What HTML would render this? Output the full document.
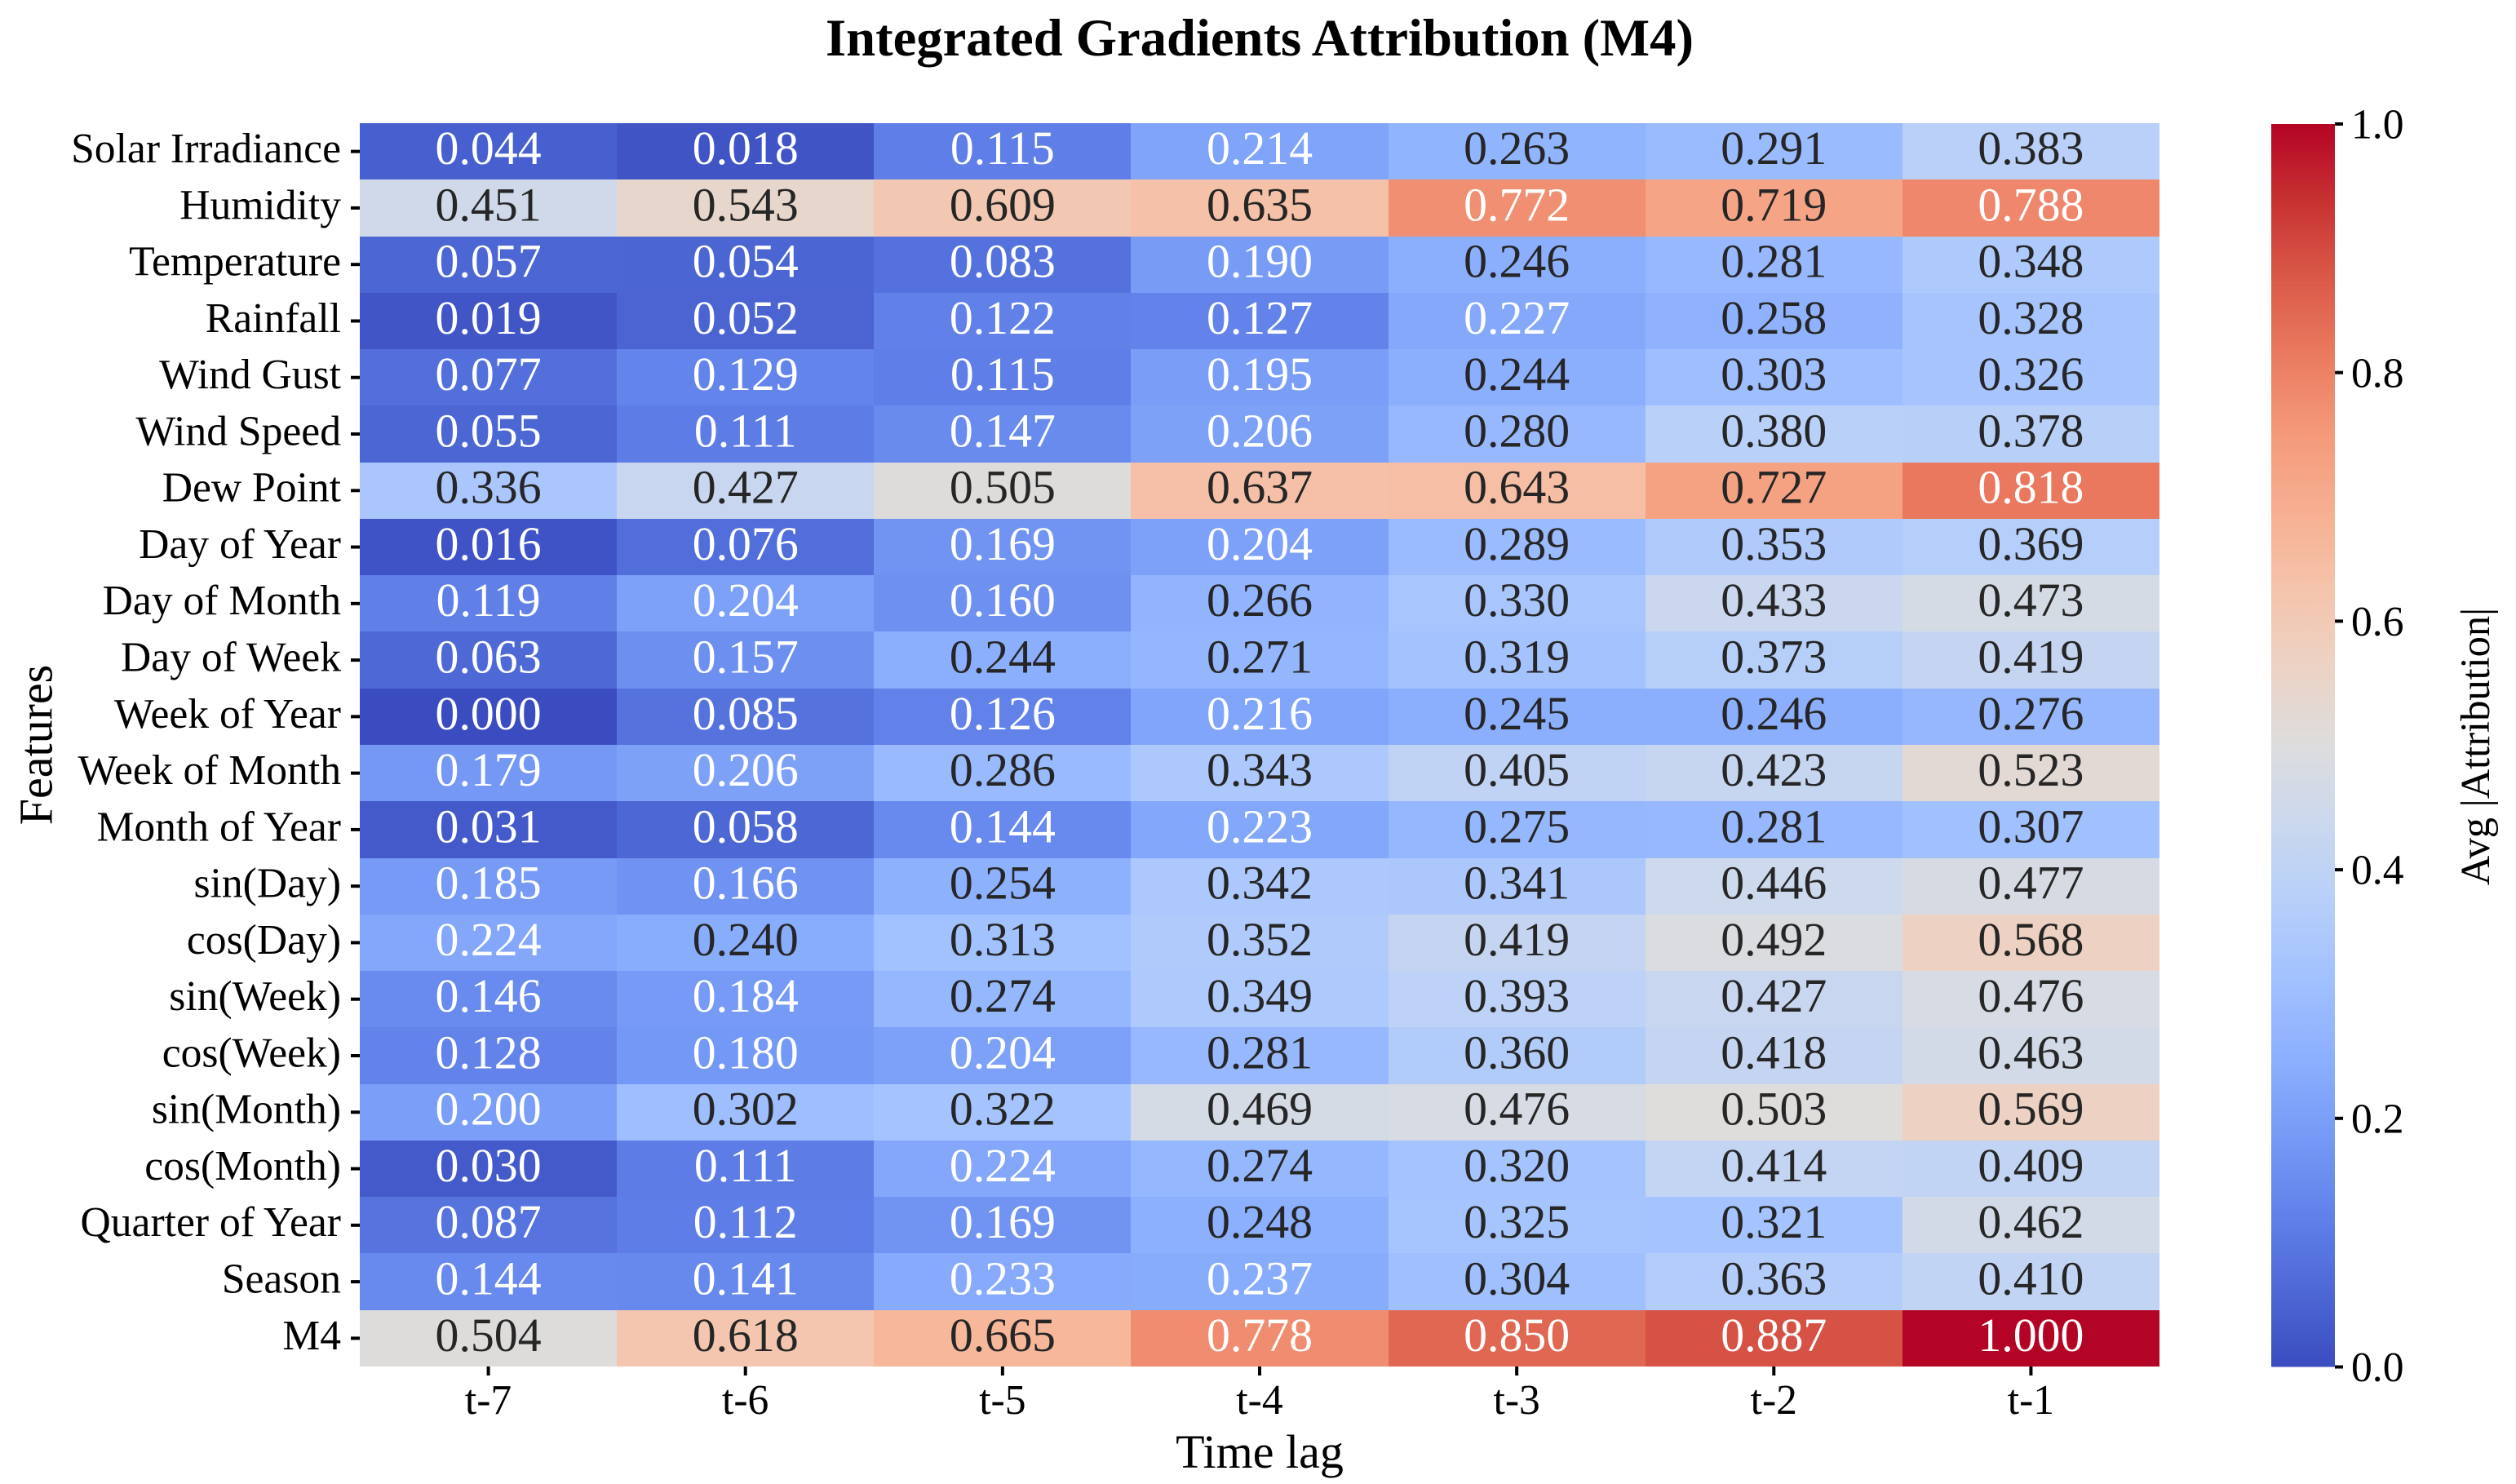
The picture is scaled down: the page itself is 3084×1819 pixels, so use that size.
<!DOCTYPE html>
<html lang="en">
<head>
<meta charset="utf-8">
<title>Integrated Gradients Attribution (M4)</title>
<style>
  html, body { margin: 0; padding: 0; background: #ffffff; }
  svg { display: block; }
  text { font-family: "Liberation Serif", "Times New Roman", serif; fill: #000000; }
</style>
</head>
<body>
<svg id="chart" xmlns="http://www.w3.org/2000/svg" width="3084" height="1819" viewBox="0 0 3084 1819">
  <rect x="0" y="0" width="3084" height="1819" fill="#ffffff"></rect>
  <text x="1544" y="68" font-size="64.6" font-weight="700" text-anchor="middle">Integrated Gradients Attribution (M4)</text>
  <text x="1544" y="1799" font-size="58" text-anchor="middle">Time lag</text>
  <text transform="translate(63.5 913) rotate(-90)" font-size="58" text-anchor="middle">Features</text>
  <text transform="translate(3051 915) rotate(-90)" font-size="50.5" text-anchor="middle">Avg |Attribution|</text>
  <g id="cells"></g>
  <g id="annotations"></g>
  <g id="y-axis"></g>
  <g id="x-axis"></g>
  <g id="colorbar"></g>
</svg>
<script>
const features = ["Solar Irradiance", "Humidity", "Temperature", "Rainfall", "Wind Gust", "Wind Speed", "Dew Point", "Day of Year", "Day of Month", "Day of Week", "Week of Year", "Week of Month", "Month of Year", "sin(Day)", "cos(Day)", "sin(Week)", "cos(Week)", "sin(Month)", "cos(Month)", "Quarter of Year", "Season", "M4"];
const timeLags = ["t-7", "t-6", "t-5", "t-4", "t-3", "t-2", "t-1"];
const colorbarTicks = [0, 0.2, 0.4, 0.6, 0.8, 1];

const solarIrradiance = [0.044, 0.018, 0.115, 0.214, 0.263, 0.291, 0.383];
const humidity = [0.451, 0.543, 0.609, 0.635, 0.772, 0.719, 0.788];
const temperature = [0.057, 0.054, 0.083, 0.190, 0.246, 0.281, 0.348];
const rainfall = [0.019, 0.052, 0.122, 0.127, 0.227, 0.258, 0.328];
const windGust = [0.077, 0.129, 0.115, 0.195, 0.244, 0.303, 0.326];
const windSpeed = [0.055, 0.111, 0.147, 0.206, 0.280, 0.380, 0.378];
const dewPoint = [0.336, 0.427, 0.505, 0.637, 0.643, 0.727, 0.818];
const dayOfYear = [0.016, 0.076, 0.169, 0.204, 0.289, 0.353, 0.369];
const dayOfMonth = [0.119, 0.204, 0.160, 0.266, 0.330, 0.433, 0.473];
const dayOfWeek = [0.063, 0.157, 0.244, 0.271, 0.319, 0.373, 0.419];
const weekOfYear = [0.000, 0.085, 0.126, 0.216, 0.245, 0.246, 0.276];
const weekOfMonth = [0.179, 0.206, 0.286, 0.343, 0.405, 0.423, 0.523];
const monthOfYear = [0.031, 0.058, 0.144, 0.223, 0.275, 0.281, 0.307];
const sinDay = [0.185, 0.166, 0.254, 0.342, 0.341, 0.446, 0.477];
const cosDay = [0.224, 0.240, 0.313, 0.352, 0.419, 0.492, 0.568];
const sinWeek = [0.146, 0.184, 0.274, 0.349, 0.393, 0.427, 0.476];
const cosWeek = [0.128, 0.180, 0.204, 0.281, 0.360, 0.418, 0.463];
const sinMonth = [0.200, 0.302, 0.322, 0.469, 0.476, 0.503, 0.569];
const cosMonth = [0.030, 0.111, 0.224, 0.274, 0.320, 0.414, 0.409];
const quarterOfYear = [0.087, 0.112, 0.169, 0.248, 0.325, 0.321, 0.462];
const season = [0.144, 0.141, 0.233, 0.237, 0.304, 0.363, 0.410];
const m4 = [0.504, 0.618, 0.665, 0.778, 0.850, 0.887, 1.000];

const valueRows = [solarIrradiance, humidity, temperature, rainfall, windGust, windSpeed, dewPoint, dayOfYear, dayOfMonth, dayOfWeek, weekOfYear, weekOfMonth, monthOfYear, sinDay, cosDay, sinWeek, cosWeek, sinMonth, cosMonth, quarterOfYear, season, m4];

const coolwarmColors = ["#3b4cc0", "#4e69d6", "#6282ea", "#779bf6", "#8db0fe", "#a2c1ff", "#b7cff9", "#cbd8ee", "#dddddd", "#ecd3c5", "#f5c4ac", "#f7af91", "#f49a7b", "#ea7b60", "#da5a49", "#c73231", "#b40426"];

const NS = "http://www.w3.org/2000/svg";
const plot = { left: 441, right: 2647, top: 151, bottom: 1675 };
const bar = { left: 2784, right: 2862, top: 152, bottom: 1675.5 };

function xBand(i) { return plot.left + (plot.right - plot.left) * i / timeLags.length; }
function yBand(j) { return plot.top + (plot.bottom - plot.top) * j / features.length; }
function colorbarY(v) { return bar.bottom - (bar.bottom - bar.top) * v; }

function hexToRgb(h) {
  return [parseInt(h.slice(1, 3), 16), parseInt(h.slice(3, 5), 16), parseInt(h.slice(5, 7), 16)];
}
function colorScale(v) {
  const p = Math.max(0, Math.min(1, v)) * (coolwarmColors.length - 1);
  const a = Math.min(Math.floor(p), coolwarmColors.length - 2);
  const t = p - a;
  const c0 = hexToRgb(coolwarmColors[a]);
  const c1 = hexToRgb(coolwarmColors[a + 1]);
  return "rgb(" + c0.map(function (c, k) { return Math.round(c + (c1[k] - c) * t); }).join(",") + ")";
}
function annotationColor(v) {
  return (v < 0.239 || v > 0.75) ? "#ffffff" : "#262626";
}
function make(tag, attrs, parent) {
  const el = document.createElementNS(NS, tag);
  Object.keys(attrs).forEach(function (k) { el.setAttribute(k, attrs[k]); });
  parent.appendChild(el);
  return el;
}

const cellsGroup = document.getElementById("cells");
const annotationsGroup = document.getElementById("annotations");
const yAxisGroup = document.getElementById("y-axis");
const xAxisGroup = document.getElementById("x-axis");
const colorbarGroup = document.getElementById("colorbar");

valueRows.forEach(function (row, j) {
  row.forEach(function (value, i) {
    const x0 = Math.round(xBand(i));
    const x1 = Math.round(xBand(i + 1));
    const y0 = Math.round(yBand(j));
    const y1 = Math.round(yBand(j + 1));
    const cell = make("rect", { x: x0, y: y0, width: x1 - x0, height: y1 - y0, fill: colorScale(value), "shape-rendering": "crispEdges" }, cellsGroup);
    
    
    const label = make("text", { x: (xBand(i) + xBand(i + 1)) / 2, y: (yBand(j) + yBand(j + 1)) / 2 + 15.4, "font-size": 57.8, "text-anchor": "middle" }, annotationsGroup);
    
    
    label.style.fill = annotationColor(value);
    label.textContent = value.toFixed(3);
  });
});

features.forEach(function (name, j) {
  const yc = (yBand(j) + yBand(j + 1)) / 2;
  const tick = make("rect", { x: 430, y: yc - 2, width: 11, height: 4, fill: "#000000" }, yAxisGroup);
  
  
  const label = make("text", { x: 418, y: yc + 13.4, "font-size": 51.6, "text-anchor": "end" }, yAxisGroup);
  
  
  label.textContent = name;
});

timeLags.forEach(function (name, i) {
  const xc = (xBand(i) + xBand(i + 1)) / 2;
  const tick = make("rect", { x: xc - 2, y: plot.bottom, width: 4, height: 11, fill: "#000000" }, xAxisGroup);
  
  
  const label = make("text", { x: xc, y: 1733, "font-size": 51.6, "text-anchor": "middle" }, xAxisGroup);
  
  
  label.textContent = name;
});

const defs = make("defs", {}, colorbarGroup);
const gradient = make("linearGradient", { id: "coolwarm-gradient", x1: 0, y1: 1, x2: 0, y2: 0 }, defs);
coolwarmColors.forEach(function (color, k) {
  make("stop", { offset: k / (coolwarmColors.length - 1), "stop-color": color }, gradient);
});
const colorbarRect = make("rect", { x: bar.left, y: bar.top, width: bar.right - bar.left, height: bar.bottom - bar.top, fill: "url(#coolwarm-gradient)" }, colorbarGroup);



colorbarTicks.forEach(function (v) {
  const y = colorbarY(v);
  const tick = make("rect", { x: bar.right, y: y - 2, width: 10, height: 4, fill: "#000000" }, colorbarGroup);
  
  
  const label = make("text", { x: 2882, y: y + 17.6, "font-size": 51.6 }, colorbarGroup);
  
  
  label.textContent = v.toFixed(1);
});
</script>
</body>
</html>
